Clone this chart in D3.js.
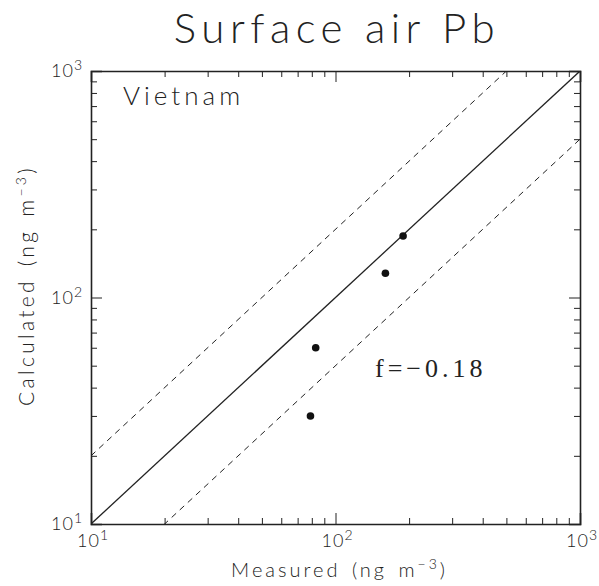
<!DOCTYPE html>
<html lang="en">
<head>
<meta charset="utf-8">
<title>Surface air Pb</title>
<script src="https://d3js.org/d3.v7.min.js"></script>
<style>
  body { margin: 0; background: #fff; }
  .lbl { font-family: "Lato", "Noto Sans", sans-serif; font-weight: 300; fill: #222; }
  .axis path { stroke: #222; stroke-width: 1.6; }
  .axis line { stroke: #222; stroke-width: 1; }
</style>
</head>
<body>
<script>
// data
var measured   = [189, 160, 83, 79];
var calculated = [187, 128, 60, 30];
var majorTicks = [10, 100, 1000];
var tickExp    = ["1", "2", "3"];
var minorTicks = [20, 30, 40, 50, 60, 70, 80, 90, 200, 300, 400, 500, 600, 700, 800, 900];
var ratioLines = [1, 2, 0.5];   // y = k * x
var domain = [10, 1000];

var W = 599, H = 586;
var margin = {top: 71, right: 19, bottom: 62, left: 91},
    width = W - margin.left - margin.right,
    height = H - margin.top - margin.bottom;

var svg = d3.select("body").append("svg")
    .attr("width", W).attr("height", H);

var g = svg.append("g")
    .attr("transform", "translate(" + margin.left + "," + margin.top + ")");

var x = d3.scaleLog().domain(domain).range([0, width]);
var y = d3.scaleLog().domain(domain).range([height, 0]);

// clip for the reference lines
svg.append("clipPath").attr("id", "clip")
  .append("rect").attr("width", width).attr("height", height);

// reference lines (1:1, 2:1, 1:2)
g.append("g").attr("clip-path", "url(#clip)")
  .selectAll("line")
  .data(ratioLines)
  .enter().append("line")
    .attr("x1", x(domain[0])).attr("y1", function(k) { return y(domain[0] * k); })
    .attr("x2", x(domain[1])).attr("y2", function(k) { return y(domain[1] * k); })
    .attr("stroke", "#222")
    .attr("stroke-width", function(k) { return k == 1 ? 1.3 : 1; })
    .attr("stroke-dasharray", function(k) { return k == 1 ? null : "6,5"; });

// axes, ticks pointing inward on all four sides
function addAxis(axis, tx, ty) {
  var a = g.append("g").attr("class", "axis")
    .attr("transform", "translate(" + tx + "," + ty + ")");
  a.call(axis.tickValues(majorTicks).tickSize(-11).tickFormat(""));
  a.append("g").call(axis.tickValues(minorTicks).tickSize(-6).tickFormat(""))
    .select(".domain").remove();
  a.selectAll("line").attr("stroke", "#222");
  return a;
}
addAxis(d3.axisBottom(x), 0, height);
addAxis(d3.axisTop(x), 0, 0);
addAxis(d3.axisLeft(y), 0, 0);
addAxis(d3.axisRight(y), width, 0);

// tick labels 10^n
var xl = g.append("g").selectAll("text")
  .data(majorTicks).enter().append("text")
    .attr("class", "lbl")
    .attr("x", function(d) { return x(d) + 2; })
    .attr("y", height + 23)
    .attr("text-anchor", "middle")
    .style("font-size", "18px").style("letter-spacing", "1px");
xl.append("tspan").text("10");
xl.append("tspan").attr("dy", -7).style("font-size", "14px").text(function(d, i) { return tickExp[i]; });

var yl = g.append("g").selectAll("text")
  .data(majorTicks).enter().append("text")
    .attr("class", "lbl")
    .attr("x", -8)
    .attr("y", function(d) { return y(d) + 6; })
    .attr("text-anchor", "end")
    .style("font-size", "18px").style("letter-spacing", "1px");
yl.append("tspan").text("10");
yl.append("tspan").attr("dy", -7).style("font-size", "14px").text(function(d, i) { return tickExp[i]; });

// points
g.selectAll("circle")
  .data(measured)
  .enter().append("circle")
    .attr("cx", function(d) { return x(d); })
    .attr("cy", function(d, i) { return y(calculated[i]); })
    .attr("r", 3.8)
    .attr("fill", "#111");

// title
svg.append("text").attr("class", "lbl")
  .attr("x", 337).attr("y", 43)
  .attr("text-anchor", "middle")
  .style("font-size", "42px").style("letter-spacing", "5.5px")
  .text("Surface air Pb");

// region label
g.append("text").attr("class", "lbl")
  .attr("x", 32).attr("y", 34)
  .style("font-size", "26px").style("letter-spacing", "4px")
  .text("Vietnam");

// bias label
g.append("text")
  .attr("x", 284).attr("y", 306)
  .style("font-family", "'Liberation Serif', 'DejaVu Serif', serif")
  .style("font-size", "26px").style("letter-spacing", "4px").attr("fill", "#222")
  .text("f=\u22120.18");

// axis titles
var xt = svg.append("text").attr("class", "lbl")
  .attr("x", margin.left + width / 2 + 4).attr("y", 577)
  .attr("text-anchor", "middle")
  .style("font-size", "20px").style("letter-spacing", "3px").style("word-spacing", "3px");
xt.append("tspan").text("Measured (ng m");
xt.append("tspan").attr("dy", -8).style("font-size", "14px").text("\u22123");
xt.append("tspan").attr("dy", 8).text(")");

var yt = svg.append("text").attr("class", "lbl")
  .attr("transform", "translate(34," + (margin.top + height / 2 - 12) + ") rotate(-90)")
  .attr("text-anchor", "middle")
  .style("font-size", "21px").style("letter-spacing", "3.3px").style("word-spacing", "3px");
yt.append("tspan").text("Calculated (ng m");
yt.append("tspan").attr("dy", -8).style("font-size", "14px").text("\u22123");
yt.append("tspan").attr("dy", 8).text(")");
</script>
</body>
</html>
